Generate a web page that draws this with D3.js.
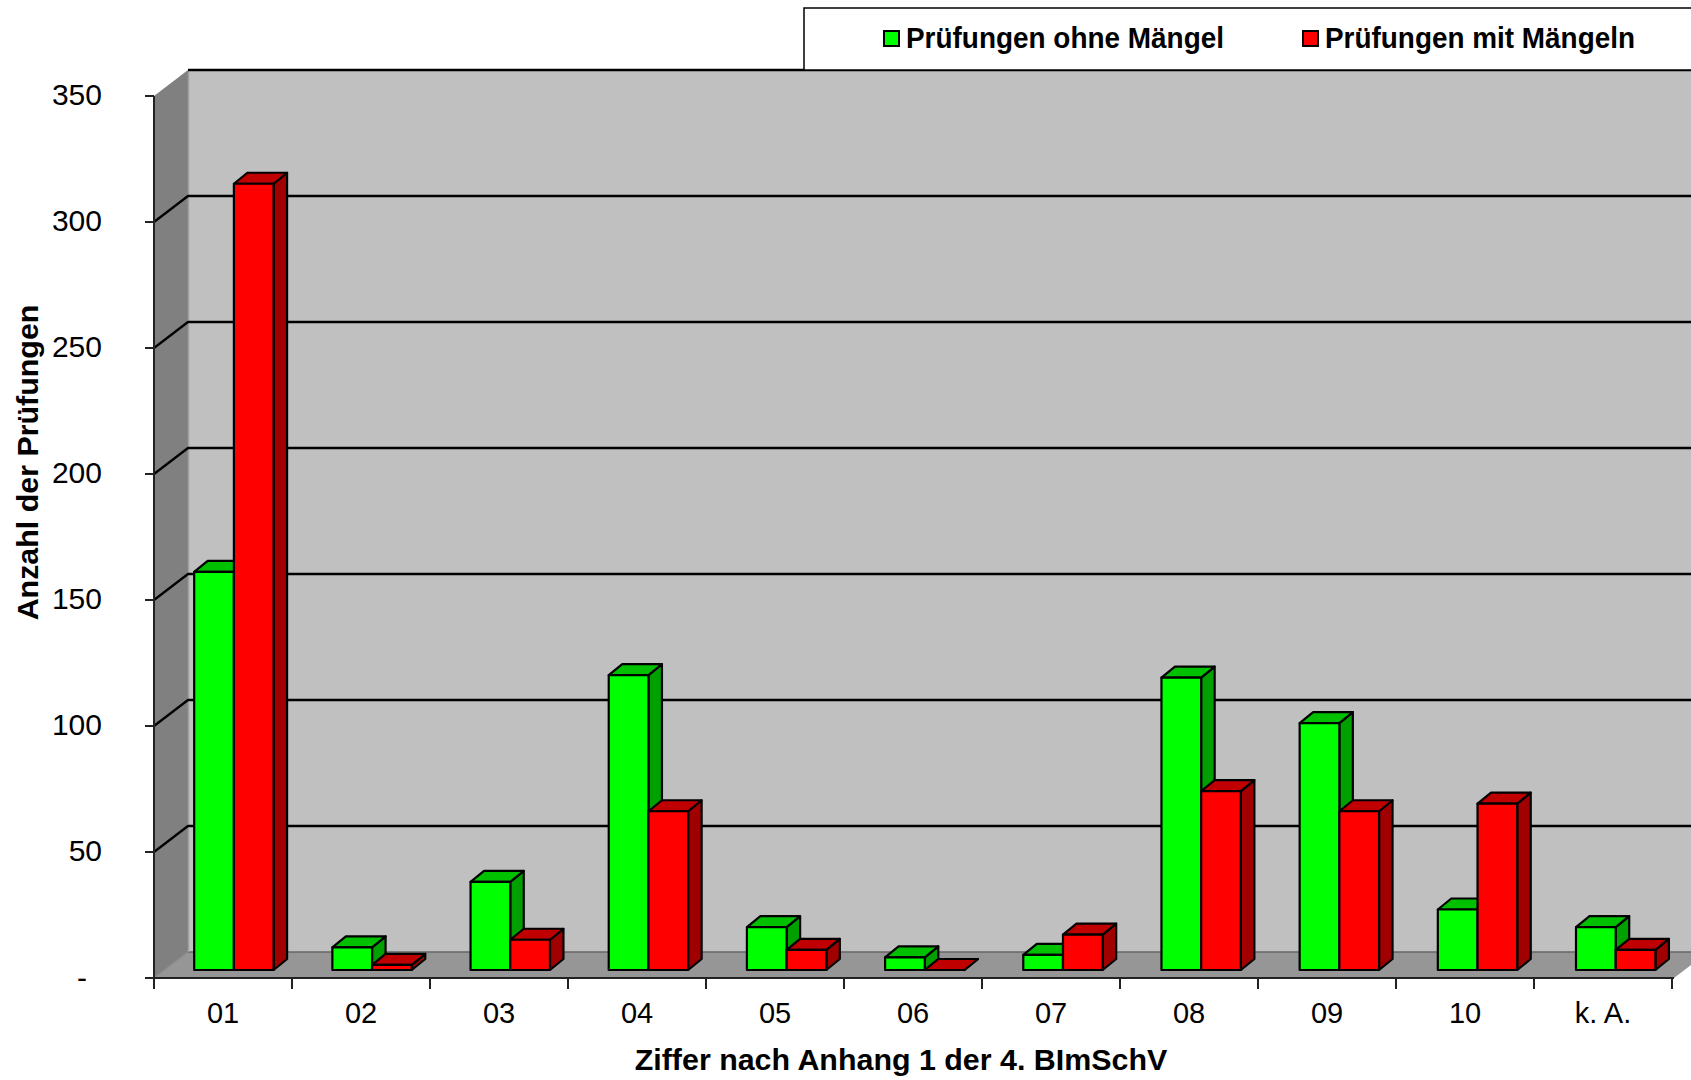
<!DOCTYPE html>
<html><head><meta charset="utf-8">
<script src="https://cdnjs.cloudflare.com/ajax/libs/d3/7.8.5/d3.min.js"></script>
<style>html,body{margin:0;padding:0;background:#fff;overflow:hidden}svg{display:block}text{font-family:"Liberation Sans",Arial,sans-serif;fill:#000}</style>
</head><body><div id="c"></div>
<script>
const categories = ["01","02","03","04","05","06","07","08","09","10","k. A."];
const ohneMaengel = [158,9,35,117,17,5,6,116,98,24,17];
const mitMaengeln = [312,2,12,63,8,0,14,71,63,66,8];
const yTicks = [0,50,100,150,200,250,300,350];
const seriesNames = ["Prüfungen ohne Mängel","Prüfungen mit Mängeln"];
const xTitle = "Ziffer nach Anhang 1 der 4. BImSchV";
const yTitle = "Anzahl der Prüfungen";

const W=1691,H=1080;
const x0=154,x1=1674,xTickEnd=1672,yBase=978,yTop=96;
const wallDx=34,wallDy=26;
const barPlaneDx=10.8,barPlaneDy=8;
const depthDx=13.5,depthDy=11;
const barW=39.7;
const svg=d3.select("#c").append("svg").attr("width",W).attr("height",H);
const x=d3.scaleBand().domain(categories).range([x0,x1]);
const xLabel=d3.scaleBand().domain(categories).range([x0,xTickEnd]);
const xEdge=d3.scaleLinear().domain([0,categories.length]).range([x0,xTickEnd]);
const y=d3.scaleLinear().domain([0,350]).range([yBase,yTop]);
const poly=(pts,fill,stroke,sw)=>svg.append("polygon").attr("points",pts.map(p=>p.join(",")).join(" "))
  .attr("fill",fill).attr("stroke",stroke||"none").attr("stroke-width",sw||0).attr("stroke-linejoin","round");

// walls
poly([[x0+wallDx,yTop-wallDy],[W+40,yTop-wallDy],[W+40,yBase-wallDy],[x0+wallDx,yBase-wallDy]],"#c0c0c0");
poly([[x0,yTop],[x0+wallDx,yTop-wallDy],[x0+wallDx,yBase-wallDy],[x0,yBase]],"#808080");
poly([[x0,yBase],[x0+wallDx,yBase-wallDy],[x1+wallDx,yBase-wallDy],[x1,yBase]],"#969696");
svg.append("line").attr("x1",x0+wallDx).attr("x2",W).attr("y1",yBase-wallDy).attr("y2",yBase-wallDy).attr("stroke","#666").attr("stroke-width",1.5);
svg.append("line").attr("x1",x0).attr("y1",yBase).attr("x2",x0+wallDx).attr("y2",yBase-wallDy).attr("stroke","#8c8c8c").attr("stroke-width",1.5);
svg.append("line").attr("x1",x0+wallDx+0.5).attr("x2",x0+wallDx+0.5).attr("y1",yTop-wallDy).attr("y2",yBase-wallDy).attr("stroke","#a0a0a0").attr("stroke-width",1.5);

// gridlines
yTicks.filter(d=>d>0).forEach(d=>{
  const yy=y(d);
  if(d<350) svg.append("polyline").attr("fill","none").attr("stroke","#000").attr("stroke-width",2.3)
    .attr("points",`${x0},${yy} ${x0+wallDx},${yy-wallDy} ${W},${yy-wallDy}`);
  else svg.append("line").attr("x1",x0+wallDx).attr("x2",W).attr("y1",yy-wallDy).attr("y2",yy-wallDy).attr("stroke","#000").attr("stroke-width",2.3);
});

// bars
function bar(cat,value,offset,front,top,side){
  const l=x(cat)+x.bandwidth()/2+barPlaneDx+offset*barW;
  const r=l+barW;
  const b=y(0)-barPlaneDy, t=y(value)-barPlaneDy;
  const sw=2.2;
  poly([[r,b],[r+depthDx,b-depthDy],[r+depthDx,t-depthDy],[r,t]],side,"#000",sw);
  poly([[l,t],[l+depthDx,t-depthDy],[r+depthDx,t-depthDy],[r,t]],top,"#000",sw);
  poly([[l,b],[l,t],[r,t],[r,b]],front,"#000",sw);
}
categories.forEach((c,i)=>{
  bar(c,ohneMaengel[i],-1,"#00ff00","#00c000","#00a000");
  bar(c,mitMaengeln[i],0,"#ff0000","#c00000","#a00000");
});

// axes
const ax=svg.append("g").attr("transform",`translate(${x0},0)`)
  .call(d3.axisLeft(y).offset(0).tickValues(yTicks).tickSize(9).tickPadding(43).tickFormat(d=>d===0?"-":d));
ax.selectAll("path,line").attr("stroke","#222").attr("stroke-width",2);
ax.select("path").attr("d",`M0,${yTop}V${yBase}`);
ax.selectAll("text").attr("font-size",30).style("font-family",'"Liberation Sans",Arial,sans-serif')
  .attr("dy",d=>d===0?"0.32em":"0.30em").attr("dx",d=>d===0?-15:0);
const ex=svg.append("g").attr("transform",`translate(0,${yBase})`)
  .call(d3.axisBottom(xEdge).offset(0).ticks(categories.length).tickSize(11).tickFormat(""));
ex.selectAll("path,line").attr("stroke","#222").attr("stroke-width",2);
ex.select("path").attr("d",`M${x0},0H${x1}`);
const lx=svg.append("g").attr("transform",`translate(0,${yBase})`)
  .call(d3.axisBottom(xLabel).offset(0).tickSize(0).tickPadding(24));
lx.select("path").remove();
lx.selectAll("text").attr("font-size",29).style("font-family",'"Liberation Sans",Arial,sans-serif');

// titles
svg.append("text").attr("x",901).attr("y",1070).attr("text-anchor","middle").attr("font-size",30.4).attr("font-weight","bold").text(xTitle);
svg.append("text").attr("transform","translate(38,462.5) rotate(-90)").attr("text-anchor","middle").attr("font-size",30.4).attr("font-weight","bold").text(yTitle);

// legend
svg.append("rect").attr("x",804).attr("y",8).attr("width",W).attr("height",62).attr("fill","#fff").attr("stroke","#000").attr("stroke-width",1.5);
const legendX=[884,1303],legendC=["#00ff00","#ff0000"],legendLen=[318,310];
seriesNames.forEach((n,i)=>{
  svg.append("rect").attr("x",legendX[i]).attr("y",31).attr("width",15).attr("height",15).attr("fill",legendC[i]).attr("stroke","#000").attr("stroke-width",2);
  svg.append("text").attr("x",legendX[i]+22).attr("y",48).attr("font-size",30).attr("font-weight","bold")
    .attr("textLength",legendLen[i]).attr("lengthAdjust","spacingAndGlyphs").text(n);
});
</script></body></html>
